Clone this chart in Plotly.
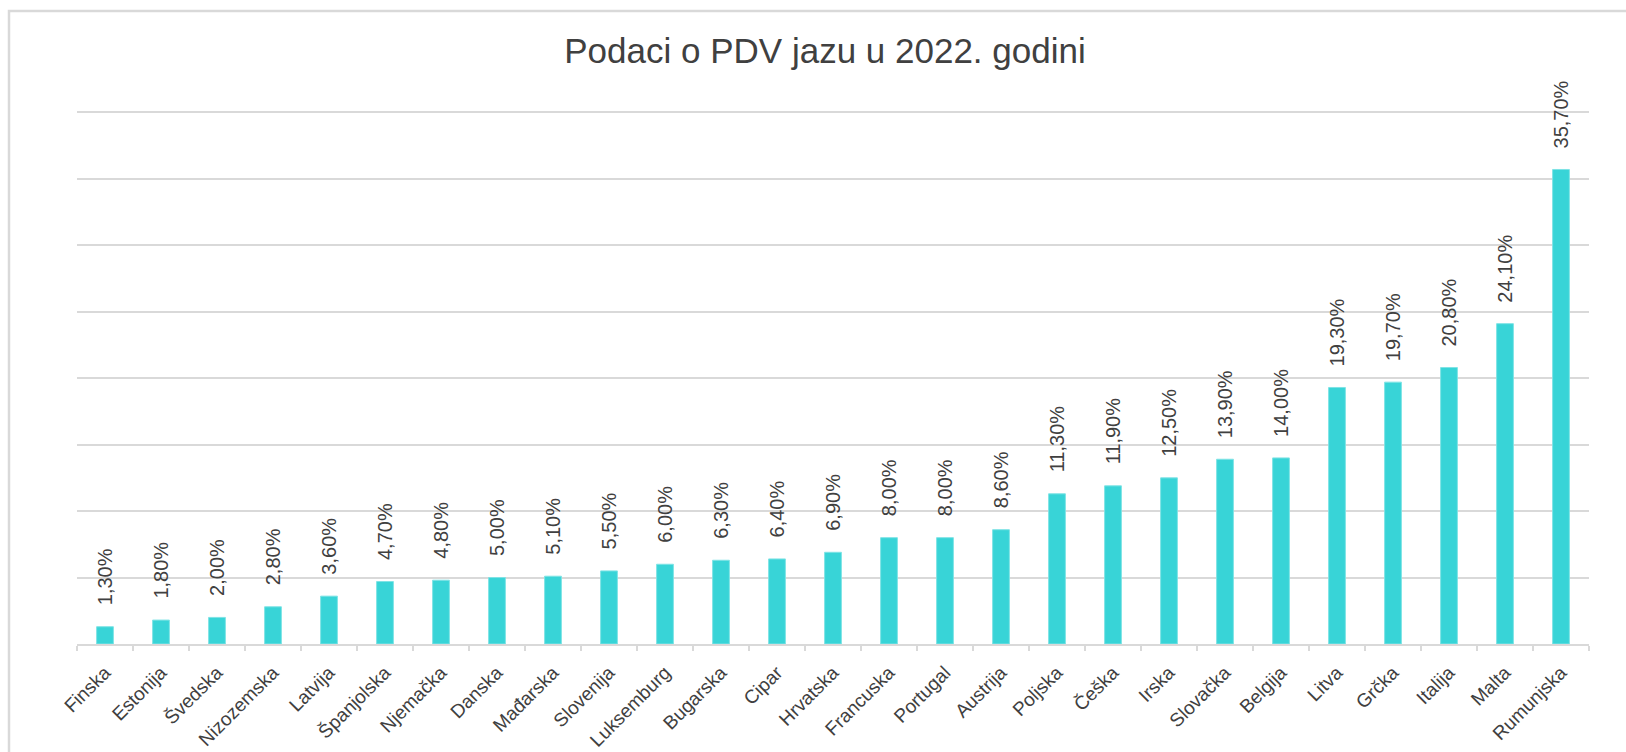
import plotly.graph_objects as go

countries = ["Finska", "Estonija", "Švedska", "Nizozemska", "Latvija", "Španjolska",
             "Njemačka", "Danska", "Mađarska", "Slovenija", "Luksemburg", "Bugarska",
             "Cipar", "Hrvatska", "Francuska", "Portugal", "Austrija", "Poljska",
             "Češka", "Irska", "Slovačka", "Belgija", "Litva", "Grčka", "Italija",
             "Malta", "Rumunjska"]
vat_gap = [1.3, 1.8, 2.0, 2.8, 3.6, 4.7, 4.8, 5.0, 5.1, 5.5, 6.0, 6.3, 6.4, 6.9,
           8.0, 8.0, 8.6, 11.3, 11.9, 12.5, 13.9, 14.0, 19.3, 19.7, 20.8, 24.1, 35.7]
title_text = "Podaci o PDV jazu u 2022. godini"

labels = [f"{v:.2f}".replace(".", ",") + "%" for v in vat_gap]

W, H = 1626, 752
ML, MR, MT, MB = 77, 37, 111, 108
TXT = "#404040"
GRID = "#D9D9D9"
FONT = "Liberation Sans, Arial, sans-serif"

fig = go.Figure()
fig.add_trace(go.Bar(
    x=countries, y=vat_gap,
    marker=dict(color="#38D4D7", line=dict(color="#7FE3E5", width=1)),
    width=0.3, hoverinfo="x+y",
))

for c, v, t in zip(countries, vat_gap, labels):
    fig.add_annotation(x=c, y=v, text=t, showarrow=False, textangle=-90,
                       xanchor="center", yanchor="bottom", yshift=19,
                       font=dict(family=FONT, size=20, color=TXT))

plot_h = H - MT - MB
plot_w = W - ML - MR
fig.add_shape(type="rect", xref="paper", yref="paper",
              x0=(9 - ML) / plot_w, x1=1.2,
              y0=-0.6, y1=(plot_h + MT - 11) / plot_h,
              line=dict(color=GRID, width=2.5), fillcolor="rgba(0,0,0,0)", layer="below")

fig.update_layout(
    width=W, height=H,
    margin=dict(l=ML, r=MR, t=MT, b=MB, autoexpand=False),
    paper_bgcolor="white", plot_bgcolor="white",
    showlegend=False,
    title=dict(text=title_text, x=825 / W, xanchor="center",
               y=1 - 51 / H, yanchor="middle",
               font=dict(family=FONT, size=35, color=TXT)),
    font=dict(family=FONT, color=TXT),
)
fig.update_xaxes(
    type="category", range=[-0.5, len(countries) - 0.5],
    showline=True, linecolor=GRID, linewidth=2,
    ticks="outside", tickson="boundaries", ticklen=5, tickcolor=GRID, tickwidth=2,
    tickangle=-45, tickfont=dict(family=FONT, size=19, color=TXT),
    ticklabelstandoff=8,
    showgrid=False,
)
fig.update_yaxes(
    range=[0, 40.1], dtick=5, showgrid=True, gridcolor=GRID, gridwidth=2,
    showticklabels=False, zeroline=False, showline=False, ticks="",
)

fig.write_html("out.html", config={"displayModeBar": False},
               post_script="document.body.style.margin='0';")
